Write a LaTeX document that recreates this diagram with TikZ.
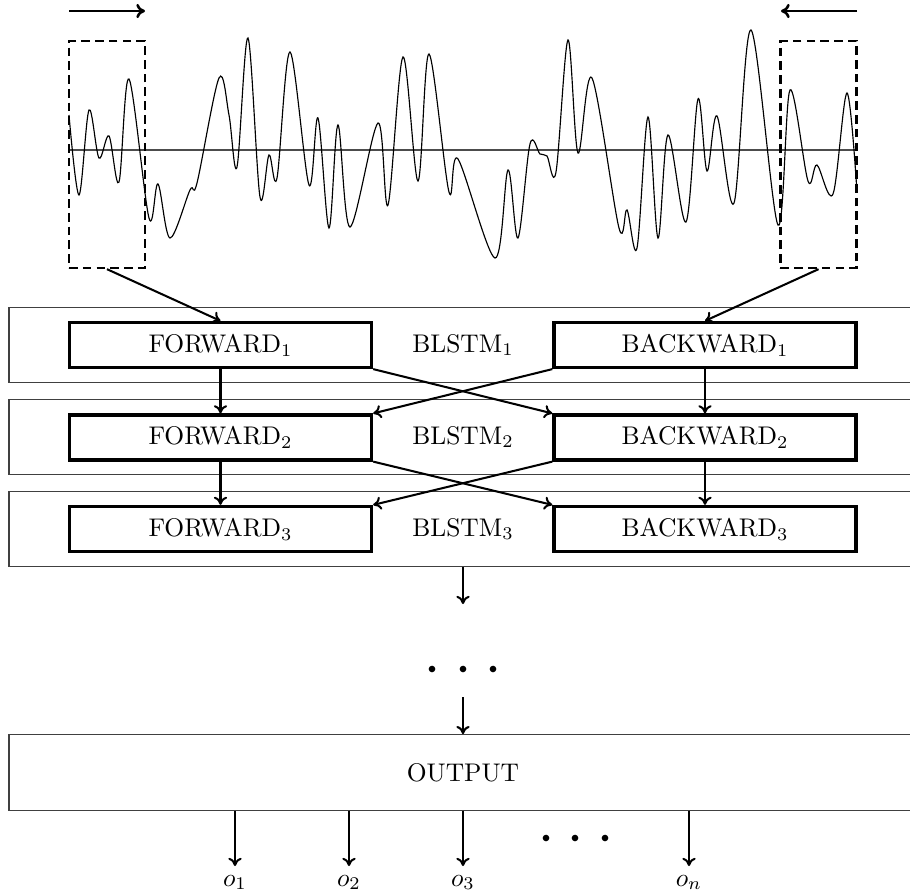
\documentclass[tikz,border=0pt]{standalone}
\usetikzlibrary{arrows.meta}
\begin{document}
\begin{tikzpicture}[x=0.392pt,y=-0.392pt,
  layer/.style={draw=black!75, line width=0.5pt, minimum width=355.9pt, minimum height=29.6pt, inner sep=0pt},
  cell/.style={draw, line width=1.3pt, minimum width=118.4pt, minimum height=17.6pt, inner sep=0pt},
  window/.style={draw, line width=0.9pt, dash pattern=on 3.4pt off 2pt, minimum width=29.8pt, minimum height=89pt, inner sep=0pt},
  link/.style={-{To[length=3.2pt,width=5.2pt]}, line width=0.8pt},
  dirarrow/.style={-{To[length=3.4pt,width=5.6pt]}, line width=1pt},
  dot/.style={fill=black}]
\useasboundingbox (0,0) rectangle (910,895);

% direction of reading for the two windows
\coordinate (fwA) at (69,11);
\coordinate (fwB) at (145,11);
\coordinate (bwA) at (857,11);
\coordinate (bwB) at (781,11);
\draw[dirarrow] (fwA) -- (fwB);
\draw[dirarrow] (bwA) -- (bwB);

% zero line and waveform
\draw[black!70, line width=0.5pt] (69,150) -- (857,150);
\draw[line width=0.45pt] plot[smooth, tension=0.55] coordinates {
 (69,115) (79,195) (89,110) (99,158) (109,136) (119,182) (129,79) (149,218)
 (158,184) (170,238) (190,190) (197,183) (219,78) (229,115) (237,167) (248,38)
 (260,197) (269,155) (277,178) (290,52) (309,185) (318,118) (329,228) (338,125)
 (350,227) (378,123) (388,205) (403,57) (418,181) (429,54) (449,192) (458,159)
 (495,258) (508,170) (518,238) (530,144) (540,154) (547,156) (556,172) (568,40)
 (578,153) (592,78) (619,228) (627,210) (637,248) (648,117) (658,238) (668,135)
 (686,222) (698,99) (707,171) (717,116) (734,203) (751,30) (778,225) (790,90)
 (808,181) (817,165) (833,194) (847,93) (857,192)};

% input windows
\node[window] (winL) at (107,154.5) {};
\node[window] (winR) at (818.5,154.5) {};

% stacked BLSTM layers
\node[layer] (L1) at (463,345) {BLSTM$_1$};
\node[layer] (L2) at (463,437) {BLSTM$_2$};
\node[layer] (L3) at (463,529) {BLSTM$_3$};

\node[cell] (F1) at (220.5,345) {FORWARD$_1$};
\node[cell] (B1) at (705,345) {BACKWARD$_1$};
\node[cell] (F2) at (220.5,437.5) {FORWARD$_2$};
\node[cell] (B2) at (705,437.5) {BACKWARD$_2$};
\node[cell] (F3) at (220.5,529) {FORWARD$_3$};
\node[cell] (B3) at (705,529) {BACKWARD$_3$};

\draw[link] (winL.south) -- (F1.north);
\draw[link] (winR.south) -- (B1.north);

\draw[link] (F1) -- (F2);
\draw[link] (F2) -- (F3);
\draw[link] (B1) -- (B2);
\draw[link] (B2) -- (B3);
\draw[link] (F1.south east) -- (B2.north west);
\draw[link] (B1.south west) -- (F2.north east);
\draw[link] (F2.south east) -- (B3.north west);
\draw[link] (B2.south west) -- (F3.north east);

% continuation towards the output layer
\coordinate (c1) at (463,604);
\coordinate (c2) at (463,697);
\draw[link] (L3.south) -- (c1);
\fill[dot] (432,669) circle[radius=1.3pt] (463,669) circle[radius=1.3pt] (493,669) circle[radius=1.3pt];

\node[layer] (out) at (463,772.5) {OUTPUT};
\draw[link] (c2) -- (out.north);

% outputs
\node[anchor=north] (o1) at (235,866) {$o_1$};
\node[anchor=north] (o2) at (349,866) {$o_2$};
\node[anchor=north] (o3) at (463,866) {$o_3$};
\node[anchor=north] (on) at (689,866) {$o_n$};
\foreach \o in {o1,o2,o3,on}
  \draw[link] (out.south -| \o.north) -- (\o.north);
\fill[dot] (546,838) circle[radius=1.3pt] (575,838) circle[radius=1.3pt] (605,838) circle[radius=1.3pt];
\end{tikzpicture}
\end{document}
